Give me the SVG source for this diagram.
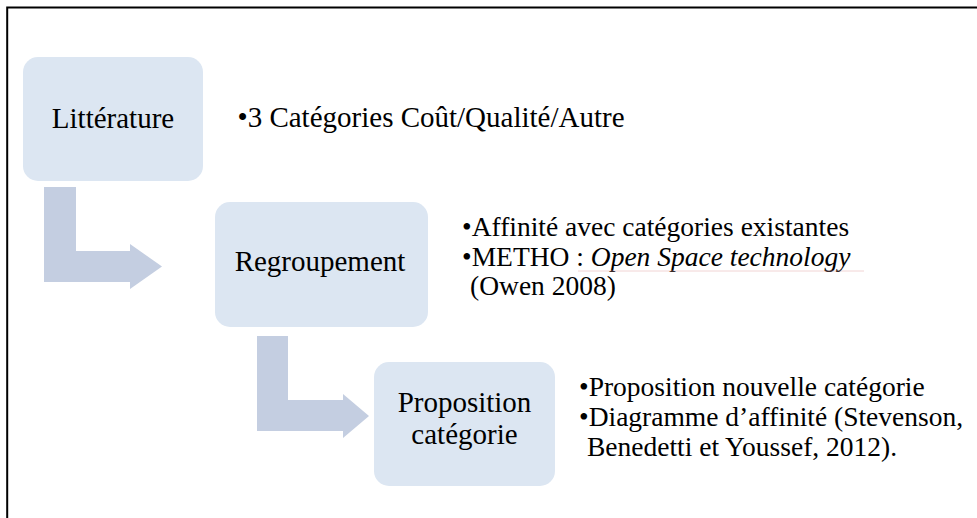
<svg xmlns="http://www.w3.org/2000/svg" width="977" height="518" viewBox="0 0 977 518">
  <style>
    .box { fill: #dce6f2; }
    .arrow { fill: #c4cee1; }
    text { font-family: 'Liberation Serif', 'Times New Roman', serif; fill: #000; }
    .label { font-size: 29px; text-anchor: middle; }
    .item { font-size: 27.5px; }
    .big { font-size: 29px; }
  </style>
  <rect width="977" height="518" fill="#ffffff"/>
  <!-- outer frame -->
  <path d="M7.2 518 V7.5 H977" fill="none" stroke="#000" stroke-width="2"/>

  <g id="connectors">
    <path class="arrow" d="M44 187 H76 V251 H130 V244 L162 266.5 L130 289 V282 H44 Z"/>
    <path class="arrow" d="M257 336 H288 V400 H343 V394 L369 416 L343 438 V431 H257 Z"/>
  </g>

  <g id="node-litterature">
    <rect class="box" x="23" y="57" width="180" height="124" rx="15"/>
    <text class="label" x="113" y="128">Littérature</text>
    <text class="item big" x="237.5" y="127">•3 Catégories Coût/Qualité/Autre</text>
  </g>

  <g id="node-regroupement">
    <rect class="box" x="215" y="202" width="213" height="125" rx="15"/>
    <text class="label" x="320" y="271">Regroupement</text>
    <text class="item" x="462" y="236">•Affinité avec catégories existantes</text>
    <text class="item" x="462" y="266">•METHO : <tspan font-style="italic">Open Space technology</tspan></text>
    <line x1="578" y1="271" x2="864" y2="271" stroke="#e6a8a8" stroke-width="0.8" opacity="0.6"/>
    <text class="item" x="470" y="295">(Owen 2008)</text>
  </g>

  <g id="node-proposition">
    <rect class="box" x="374" y="362" width="181" height="124" rx="15"/>
    <text class="label" x="464.5" y="412">Proposition</text>
    <text class="label" x="464.5" y="444">catégorie</text>
    <text class="item" x="579" y="396">•Proposition nouvelle catégorie</text>
    <text class="item" x="579" y="426">•Diagramme d’affinité (Stevenson,</text>
    <text class="item" x="587" y="456">Benedetti et Youssef, 2012).</text>
  </g>
</svg>
